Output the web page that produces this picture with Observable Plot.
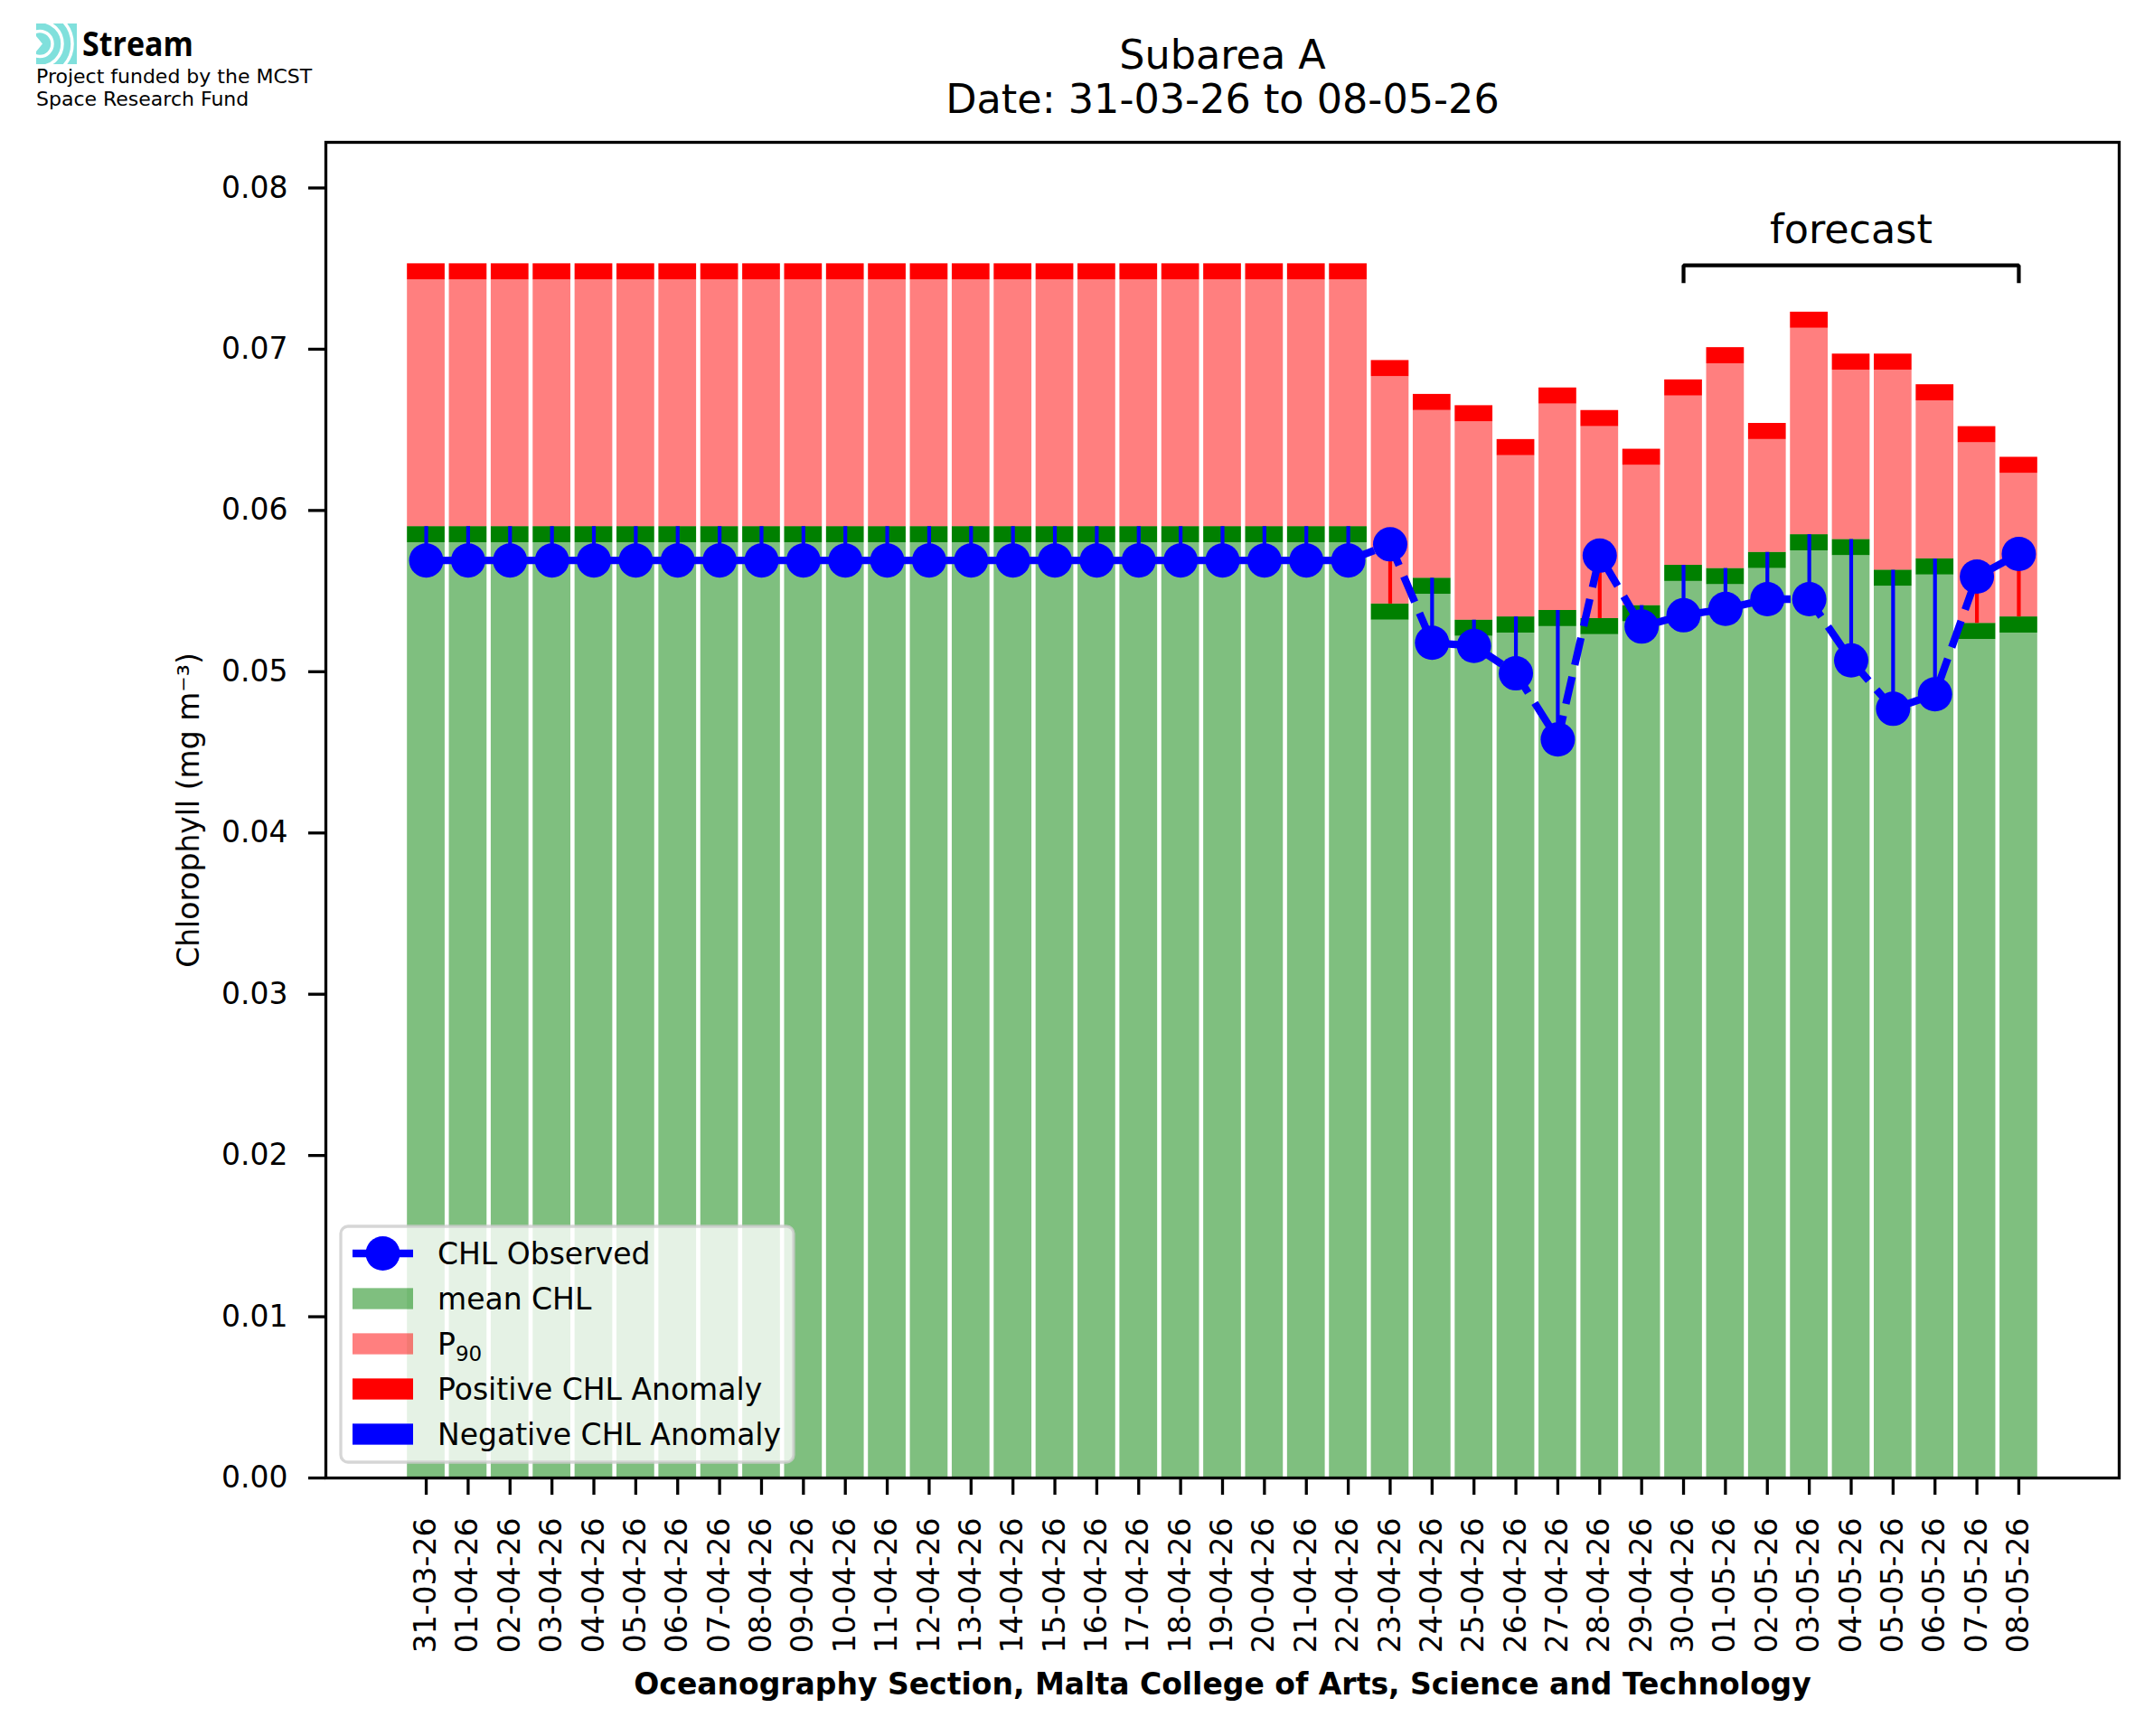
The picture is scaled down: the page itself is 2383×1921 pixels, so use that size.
<!DOCTYPE html>
<html>
<head>
<meta charset="utf-8">
<script src="https://cdn.jsdelivr.net/npm/d3@7"></script>
<script src="https://cdn.jsdelivr.net/npm/@observablehq/plot@0.6"></script>
<style>
html, body { margin: 0; padding: 0; background: #fff; overflow: hidden; }
#wrap { position: relative; width: 2383px; height: 1921px; font-family: "DejaVu Sans", sans-serif; }
#wrap > svg { position: absolute; left: 0; top: 0; }
</style>
</head>
<body>
<div id="wrap"></div>
<script>
// ---- data ----
const dates = [
  "31-03-26","01-04-26","02-04-26","03-04-26","04-04-26","05-04-26","06-04-26","07-04-26",
  "08-04-26","09-04-26","10-04-26","11-04-26","12-04-26","13-04-26","14-04-26","15-04-26",
  "16-04-26","17-04-26","18-04-26","19-04-26","20-04-26","21-04-26","22-04-26","23-04-26",
  "24-04-26","25-04-26","26-04-26","27-04-26","28-04-26","29-04-26","30-04-26","01-05-26",
  "02-05-26","03-05-26","04-05-26","05-05-26","06-05-26","07-05-26","08-05-26"
];
// mean CHL (top of the dark-green band)
const meanCHL = [
  0.0590,0.0590,0.0590,0.0590,0.0590,0.0590,0.0590,0.0590,
  0.0590,0.0590,0.0590,0.0590,0.0590,0.0590,0.0590,0.0590,
  0.0590,0.0590,0.0590,0.0590,0.0590,0.0590,0.0590,0.0542,
  0.0558,0.0532,0.0534,0.0538,0.0533,0.0541,0.0566,0.0564,
  0.0574,0.0585,0.0582,0.0563,0.0570,0.0530,0.0534
];
// P90 (top of the red band)
const p90 = [
  0.0753,0.0753,0.0753,0.0753,0.0753,0.0753,0.0753,0.0753,
  0.0753,0.0753,0.0753,0.0753,0.0753,0.0753,0.0753,0.0753,
  0.0753,0.0753,0.0753,0.0753,0.0753,0.0753,0.0753,0.0693,
  0.0672,0.0665,0.0644,0.0676,0.0662,0.0638,0.0681,0.0701,
  0.0654,0.0723,0.0697,0.0697,0.0678,0.0652,0.0633
];
// CHL observed
const observed = [
  0.0569,0.0569,0.0569,0.0569,0.0569,0.0569,0.0569,0.0569,
  0.0569,0.0569,0.0569,0.0569,0.0569,0.0569,0.0569,0.0569,
  0.0569,0.0569,0.0569,0.0569,0.0569,0.0569,0.0569,0.0579,
  0.0518,0.0516,0.0499,0.0458,0.0572,0.0528,0.0535,0.0539,
  0.0545,0.0545,0.0507,0.0477,0.0486,0.0559,0.0573
];
const yTicks = [0, 0.01, 0.02, 0.03, 0.04, 0.05, 0.06, 0.07, 0.08];
const lastSolidDate = "22-04-26";
const forecastRange = ["30-04-26", "08-05-26"];
const bandHeight = 0.001;        // thickness of mean / P90 marker bands
const bracketLevel = 0.0752;     // forecast bracket
const bracketDrop = 0.0011;
const forecastLabelY = 0.0766;
const titleLines = ["Subarea A", "Date: 31-03-26 to 08-05-26"];
const yLabel = "Chlorophyll (mg m\u207B\u00B3)";
const xLabel = "Oceanography Section, Malta College of Arts, Science and Technology";
const legendLabels = ["CHL Observed", "mean CHL", "P", "Positive CHL Anomaly", "Negative CHL Anomaly"];

// ---- build ----
const n = dates.length;
const rows = dates.map((date, i) => ({i, date, mean: meanCHL[i], p90: p90[i], obs: observed[i]}));
const splitIdx = dates.indexOf(lastSolidDate);
const f0 = dates.indexOf(forecastRange[0]), f1 = dates.indexOf(forecastRange[1]);
const bracket = [
  {x: f0, y: bracketLevel - bracketDrop}, {x: f0, y: bracketLevel},
  {x: f1, y: bracketLevel}, {x: f1, y: bracketLevel - bracketDrop}
];
const hw = 0.45;
const span = (n - 1) + 2 * hw, pad = 0.05 * span;
const bx1 = d => d.i - hw, bx2 = d => d.i + hw;

const W = 2383, H = 1921, ML = 360, MR = 39, MT = 157, MB = 286;

const chart = Plot.plot({
  width: W, height: H,
  marginLeft: ML, marginRight: MR, marginTop: MT, marginBottom: MB,
  style: {fontFamily: "'DejaVu Sans', sans-serif", fontSize: "33px", background: "white", color: "black", overflow: "visible"},
  x: {type: "linear", domain: [-hw - pad, n - 1 + hw + pad]},
  y: {domain: [0, 1.1 * d3.max(p90)]},
  marks: [
    Plot.rect(rows, {x1: bx1, x2: bx2, y1: 0, y2: d => d.mean - bandHeight, fill: "#008000", fillOpacity: 0.5}),
    Plot.rect(rows, {x1: bx1, x2: bx2, y1: d => d.mean - bandHeight, y2: "mean", fill: "#008000"}),
    Plot.rect(rows, {x1: bx1, x2: bx2, y1: "mean", y2: d => d.p90 - bandHeight, fill: "#ff0000", fillOpacity: 0.5}),
    Plot.rect(rows, {x1: bx1, x2: bx2, y1: d => d.p90 - bandHeight, y2: "p90", fill: "#ff0000"}),
    Plot.ruleX(rows.filter(d => d.obs >= d.mean), {x: "i", y1: "obs", y2: "mean", stroke: "#ff0000", strokeWidth: 4.2}),
    Plot.ruleX(rows.filter(d => d.obs < d.mean), {x: "i", y1: "obs", y2: "mean", stroke: "#0000ff", strokeWidth: 4.2}),
    Plot.line(rows.filter(d => d.i <= splitIdx), {x: "i", y: "obs", stroke: "#0000ff", strokeWidth: 8.3, strokeLinejoin: "round", strokeLinecap: "square"}),
    Plot.line(rows.filter(d => d.i >= splitIdx), {x: "i", y: "obs", stroke: "#0000ff", strokeWidth: 8.3, strokeDasharray: "30.8,13.3", strokeLinecap: "butt", strokeLinejoin: "round"}),
    Plot.dot(rows, {x: "i", y: "obs", r: 19, fill: "#0000ff", stroke: null}),
    Plot.line(bracket, {x: "x", y: "y", stroke: "black", strokeWidth: 4.2, strokeLinejoin: "miter", strokeLinecap: "butt"}),
    Plot.text([{x: (f0 + f1) / 2, y: forecastLabelY, t: "forecast"}], {x: "x", y: "y", text: "t", fontSize: 44.5, lineAnchor: "bottom", textAnchor: "middle", fill: "black"}),
    Plot.axisY(yTicks, {tickSize: 19, tickPadding: 23, tickFormat: d3.format(".2f"), fontSize: 33, strokeWidth: 3.3, label: null}),
    Plot.axisX(d3.range(n), {tickSize: 19, tickPadding: 25, tickFormat: i => dates[i], tickRotate: -90, fontSize: 33, strokeWidth: 3.3, label: null}),
    Plot.frame({stroke: "black", strokeWidth: 3.3}),
    Plot.text([yLabel], {frameAnchor: "left", dx: -141, rotate: -90, lineAnchor: "bottom", textAnchor: "middle", fontSize: 33, fill: "black"}),
    Plot.text([xLabel], {frameAnchor: "bottom", dy: 239, lineAnchor: "bottom", textAnchor: "middle", fontSize: 33, fontWeight: "bold", fill: "black"}),
    Plot.text([titleLines[0]], {frameAnchor: "top", dy: 75 - MT, lineAnchor: "bottom", textAnchor: "middle", fontSize: 44.5, fill: "black"}),
    Plot.text([titleLines[1]], {frameAnchor: "top", dy: 124 - MT, lineAnchor: "bottom", textAnchor: "middle", fontSize: 44.5, fill: "black"})
  ]
});
const wrap = document.getElementById("wrap");
wrap.appendChild(chart);

// ---- overlay: logo + legend ----
const ov = d3.select(wrap).append("svg")
  .attr("width", W).attr("height", H)
  .style("pointer-events", "none")
  .attr("font-family", "'DejaVu Sans', sans-serif");

// logo
const logo = ov.append("g");
logo.append("clipPath").attr("id", "lc").append("rect").attr("x", 40).attr("y", 26).attr("width", 45).attr("height", 45);
const lg = logo.append("g").attr("clip-path", "url(#lc)");
lg.append("rect").attr("x", 40).attr("y", 26).attr("width", 45).attr("height", 45).attr("fill", "#80e0dc");
[14, 25, 36].forEach(r => {
  lg.append("circle").attr("cx", 44).attr("cy", 48.5).attr("r", r).attr("fill", "none").attr("stroke", "white").attr("stroke-width", 3.5);
});
lg.append("path").attr("d", "M40,40 L47,48.5 L40,57 Z").attr("fill", "white");
logo.append("text").attr("x", 91).attr("y", 62).attr("font-family", "'Open Sans', 'DejaVu Sans', sans-serif")
  .attr("font-weight", "bold").attr("font-size", 37).attr("textLength", 123).attr("lengthAdjust", "spacingAndGlyphs")
  .attr("fill", "black").text("Stream");
logo.append("text").attr("x", 40).attr("y", 92).attr("font-size", 22).attr("fill", "black").text("Project funded by the MCST");
logo.append("text").attr("x", 40).attr("y", 117).attr("font-size", 22).attr("fill", "black").text("Space Research Fund");

// legend
const leg = ov.append("g");
leg.append("rect").attr("x", 377).attr("y", 1357).attr("width", 501).attr("height", 261).attr("rx", 8)
  .attr("fill", "rgba(255,255,255,0.8)").attr("stroke", "rgba(204,204,204,0.8)").attr("stroke-width", 3.3);
const hx = 390, hlen = 67, tx = 484, cy0 = 1387, dyRow = 50, ph = 23.3;
// CHL Observed
leg.append("line").attr("x1", hx).attr("x2", hx + hlen).attr("y1", cy0).attr("y2", cy0).attr("stroke", "#0000ff").attr("stroke-width", 8.3);
leg.append("circle").attr("cx", hx + hlen / 2).attr("cy", cy0).attr("r", 19).attr("fill", "#0000ff");
const patches = [
  {fill: "#008000", op: 0.5},
  {fill: "#ff0000", op: 0.5},
  {fill: "#ff0000", op: 1},
  {fill: "#0000ff", op: 1}
];
patches.forEach((p, k) => {
  const cy = cy0 + dyRow * (k + 1);
  leg.append("rect").attr("x", hx).attr("y", cy - ph / 2).attr("width", hlen).attr("height", ph)
    .attr("fill", p.fill).attr("fill-opacity", p.op);
});
legendLabels.forEach((lab, k) => {
  const cy = cy0 + dyRow * k;
  const t = leg.append("text").attr("x", tx).attr("y", cy + 11.5).attr("font-size", 33).attr("fill", "black").text(lab);
  if (k === 2) t.append("tspan").attr("font-size", 23).attr("dy", 7).text("90");
});
</script>
</body>
</html>
